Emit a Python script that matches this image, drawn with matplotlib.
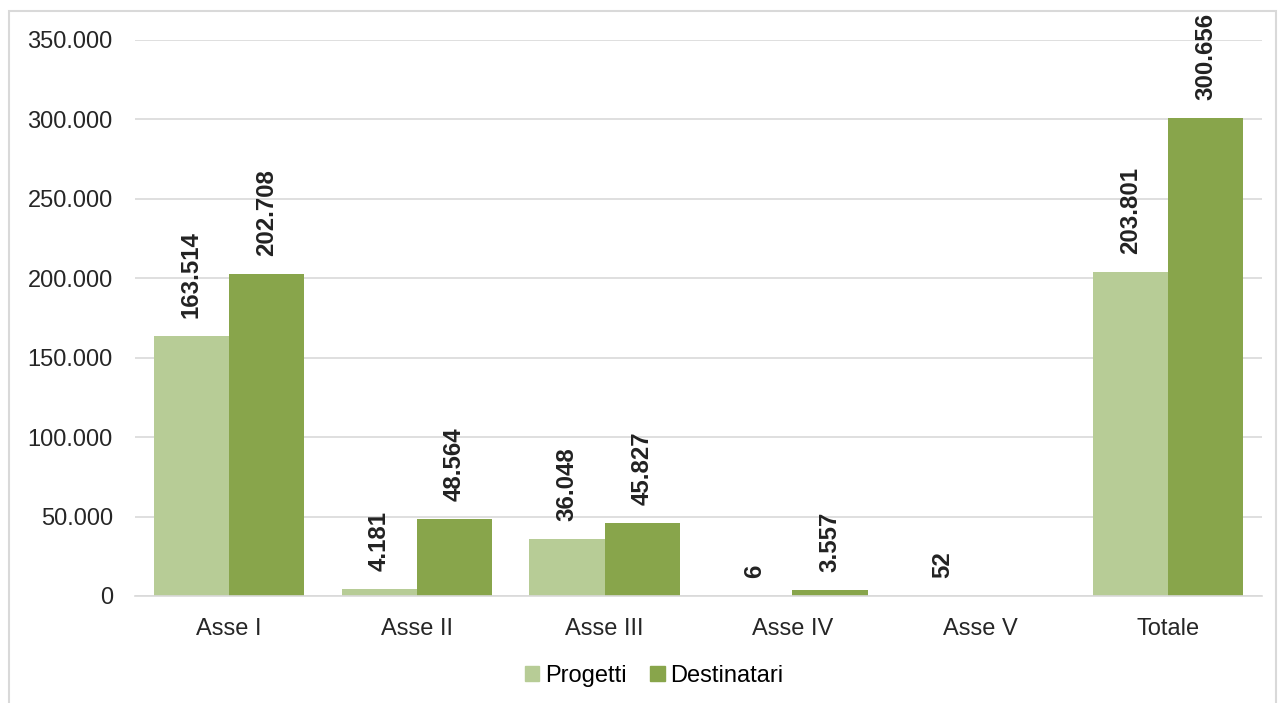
import numpy as np
import matplotlib.pyplot as plt
from matplotlib.patches import Rectangle
from matplotlib.ticker import FuncFormatter

plt.rcParams['font.family'] = ['Liberation Sans', 'DejaVu Sans']

categories = ['Asse I', 'Asse II', 'Asse III', 'Asse IV', 'Asse V', 'Totale']
progetti = [163514, 4181, 36048, 6, 52, 203801]
destinatari = [202708, 48564, 45827, 3557, None, 300656]

c_prog = '#B7CC96'
c_dest = '#88A54B'

W, H = 1278, 703
fig = plt.figure(figsize=(W / 100, H / 100), dpi=100)
ax = fig.add_axes([135 / W, 1 - 596 / H, (1262 - 135) / W, (596 - 40) / H])

fig.patches.append(Rectangle((9 / W, -0.05), (1276 - 9) / W, 1.05 - 11 / H,
                             transform=fig.transFigure, fill=False,
                             edgecolor='#D9D9D9', linewidth=1.5))

x = np.arange(len(categories))
w = 0.4


def fmt(v):
    return f'{v:,.0f}'.replace(',', '.')


def label(xpos, v):
    ax.annotate(fmt(v), (xpos, v), xytext=(0, 13), textcoords='offset points',
                rotation=90, ha='center', va='bottom', fontsize=17.3,
                fontweight='bold', color='#222222')


for i, (p, d) in enumerate(zip(progetti, destinatari)):
    ax.bar(x[i] - w / 2, p, w, color=c_prog, zorder=2)
    label(x[i] - w / 2, p)
    if d is not None:
        ax.bar(x[i] + w / 2, d, w, color=c_dest, zorder=2)
        label(x[i] + w / 2, d)

ax.set_xlim(-0.5, len(categories) - 0.5)
ax.set_ylim(0, 350000)
ax.set_yticks(np.arange(0, 350001, 50000))
ax.yaxis.set_major_formatter(FuncFormatter(lambda v, _: fmt(v)))
ax.set_xticks(x)
ax.set_xticklabels(categories)
ax.tick_params(axis='both', length=0, labelsize=17, colors='#262626')
ax.tick_params(axis='y', pad=16)
ax.tick_params(axis='x', pad=16)
ax.grid(axis='y', color='#D9D9D9', linewidth=1.2, zorder=0)
for s in ['top', 'right', 'left']:
    ax.spines[s].set_visible(False)
ax.spines['bottom'].set_color('#D9D9D9')
ax.spines['bottom'].set_linewidth(1.2)
ax.spines['bottom'].set_zorder(3)

handles = [Rectangle((0, 0), 1, 1, color=c_prog), Rectangle((0, 0), 1, 1, color=c_dest)]
fig.legend(handles, ['Progetti', 'Destinatari'], loc='center', bbox_to_anchor=(0.512, 1 - 676 / H),
           ncol=2, frameon=False, fontsize=17, handlelength=0.6, handleheight=0.6,
           handletextpad=0.25, columnspacing=1.0)

fig.savefig('out.png', dpi=100, facecolor='white')
